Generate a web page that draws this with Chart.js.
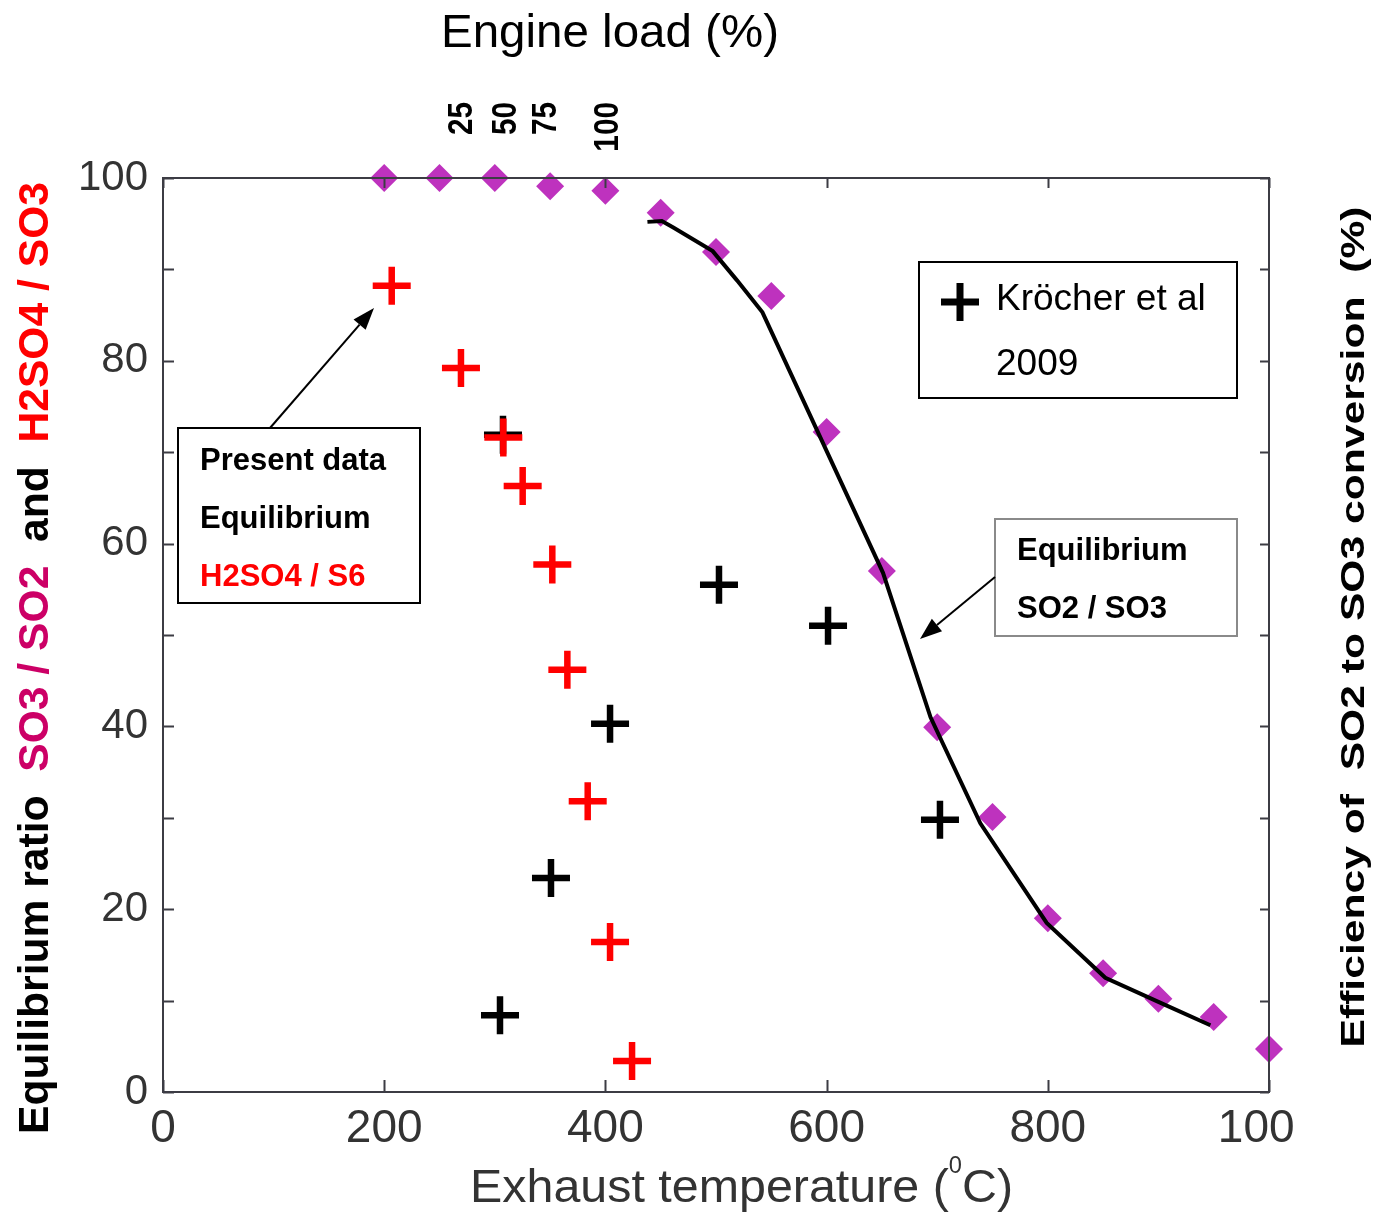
<!DOCTYPE html>
<html><head><meta charset="utf-8">
<script src="https://cdn.jsdelivr.net/npm/chart.js@4.4.1/dist/chart.umd.min.js"></script>
<style>html,body{margin:0;padding:0;background:#fff;}#wrap{width:1378px;height:1215px;position:relative;}</style>
</head><body><div id="wrap"><canvas id="c"></canvas></div>
<script>
// ---- data ----
const diamondTemps = [200,250,300,350,400,450,500,550,600,650,700,750,800,850,900,950,1000];
const so3Ratio     = [100,100,100,99.1,98.6,96.2,91.9,87.1,72.2,57.0,39.9,30.1,19.0,13.0,10.2,8.2,4.7];
const lineTemps = [438,451,461,497,519,542,651,694,739,799,852,901,947];
const lineRatio = [95.2,95.3,94.6,92.0,88.8,85.3,56.8,41.0,29.4,18.5,12.5,9.8,7.3];
const redTemps = [206.8,269.4,307.7,325.2,352.0,365.6,384.0,404.2,424.1];
const redRatio = [88.2,79.2,71.6,66.3,57.7,46.2,31.8,16.4,3.4];
const blackTemps = [307.4,502.7,601.3,404.2,702.5,350.8,304.7];
const blackRatio = [71.9,55.5,51.0,40.3,29.8,23.4,8.4];
const xTickValues = [0,200,400,600,800,1000];
const xTickLabels = ['0','200','400','600','800','1000'];
const yTickValues = [0,20,40,60,80,100];
const yTickLabels = ['0','20','40','60','80','100'];
const yMinorTicks = [10,30,50,70,90];
const engineLoadLabels = ['25','50','75','100'];
const engineLoadTemps = [268,307,344,400];

const FONT = '"Liberation Sans", Arial, sans-serif';
const pts = (xs, ys) => xs.map((x, i) => ({x, y: ys[i]}));

function drawRich(ctx, segs, font, x, y, angle, targetLen, align) {
  ctx.save();
  ctx.font = font;
  const widths = segs.map(s => ctx.measureText(s.t).width);
  const total = widths.reduce((a, b) => a + b, 0);
  const sx = targetLen ? targetLen / total : 1;
  ctx.translate(x, y); ctx.rotate(angle); ctx.scale(sx, 1);
  let cx = align === 'center' ? -total / 2 : (align === 'right' ? -total : 0);
  ctx.textBaseline = 'alphabetic'; ctx.textAlign = 'left';
  segs.forEach((s, i) => { ctx.fillStyle = s.c; ctx.fillText(s.t, cx, 0); cx += widths[i]; });
  ctx.restore();
}
function arrow(ctx, x1, y1, x2, y2) {
  const a = Math.atan2(y2 - y1, x2 - x1), L = 22, W = 8;
  ctx.save();
  ctx.strokeStyle = '#000'; ctx.fillStyle = '#000'; ctx.lineWidth = 2;
  ctx.beginPath(); ctx.moveTo(x1, y1);
  ctx.lineTo(x2 - L * Math.cos(a), y2 - L * Math.sin(a)); ctx.stroke();
  ctx.beginPath(); ctx.moveTo(x2, y2);
  ctx.lineTo(x2 - L * Math.cos(a) + W * Math.sin(a), y2 - L * Math.sin(a) - W * Math.cos(a));
  ctx.lineTo(x2 - L * Math.cos(a) - W * Math.sin(a), y2 - L * Math.sin(a) + W * Math.cos(a));
  ctx.closePath(); ctx.fill();
  ctx.restore();
}

const framePlugin = {
  id: 'frame',
  afterDatasetsDraw(chart) {
    const ctx = chart.ctx, a = chart.chartArea, xs = chart.scales.x, ys = chart.scales.y;
    ctx.save();
    ctx.strokeStyle = '#3c3c44'; ctx.lineWidth = 2;
    ctx.strokeRect(a.left, a.top, a.right - a.left, a.bottom - a.top);
    ctx.beginPath();
    yTickValues.concat(yMinorTicks).forEach(v => {
      const p = Math.round(ys.getPixelForValue(v)) + 0.5;
      ctx.moveTo(a.left, p); ctx.lineTo(a.left + 11, p);
      ctx.moveTo(a.right, p); ctx.lineTo(a.right - 9, p);
    });
    xTickValues.forEach(v => {
      const p = Math.round(xs.getPixelForValue(v)) + 0.5;
      ctx.moveTo(p, a.bottom); ctx.lineTo(p, a.bottom - 12);
      ctx.moveTo(p, a.top); ctx.lineTo(p, a.top + 10);
    });
    ctx.stroke();
    ctx.restore();
  },
  afterDraw(chart) {
    const ctx = chart.ctx, xs = chart.scales.x;
    // mask the clipped end of the last tick label as in the reference
    ctx.save(); ctx.fillStyle = '#fff'; ctx.fillRect(1296, 1100, 30, 60); ctx.restore();

    // axis titles
    drawRich(ctx, [{t: 'Engine load (%)', c: '#000'}], '47px ' + FONT, 610, 47, 0, 338, 'center');
    // bottom title with superscript
    ctx.save();
    const big = '47px ' + FONT, small = '23px ' + FONT;
    ctx.font = big; const w1 = ctx.measureText('Exhaust temperature (').width, w3 = ctx.measureText('C)').width;
    ctx.font = small; const w2 = ctx.measureText('0').width;
    const sc = 543 / (w1 + w2 + w3);
    ctx.translate(470, 1202); ctx.scale(sc, 1); ctx.fillStyle = '#333'; ctx.textBaseline = 'alphabetic';
    ctx.font = big; ctx.fillText('Exhaust temperature (', 0, 0);
    ctx.font = small; ctx.fillText('0', w1, -29);
    ctx.font = big; ctx.fillText('C)', w1 + w2, 0);
    ctx.restore();

    drawRich(ctx, [
      {t: 'Equilibrium ratio  ', c: '#000'},
      {t: 'SO3 / SO2', c: '#cc0066'},
      {t: '  and  ', c: '#000'},
      {t: 'H2SO4 / SO3', c: '#ff0000'}
    ], 'bold 43px ' + FONT, 48, 658, -Math.PI / 2, 952, 'center');
    drawRich(ctx, [{t: 'Efficiency of  SO2 to SO3 conversion  (%)', c: '#000'}],
      'bold 34px ' + FONT, 1364, 627, -Math.PI / 2, 841, 'center');

    // engine load labels on the top axis
    engineLoadLabels.forEach((lab, i) => {
      const px = xs.getPixelForValue(engineLoadTemps[i]);
      ctx.save();
      ctx.font = 'bold 35px ' + FONT; ctx.fillStyle = '#000';
      ctx.translate(px + 13, 102); ctx.rotate(-Math.PI / 2); ctx.scale(0.85, 1);
      ctx.textAlign = 'right'; ctx.textBaseline = 'alphabetic';
      ctx.fillText(lab, 0, 0);
      ctx.restore();
    });

    // annotation boxes
    ctx.save();
    ctx.fillStyle = '#fff';
    ctx.lineWidth = 2;
    ctx.strokeStyle = '#000';
    ctx.fillRect(178, 428, 242, 175); ctx.strokeRect(178, 428, 242, 175);
    ctx.fillRect(919, 262, 318, 136); ctx.strokeRect(919, 262, 318, 136);
    ctx.strokeStyle = '#8a8a8a';
    ctx.fillRect(995, 519, 242, 117); ctx.strokeRect(995, 519, 242, 117);
    ctx.restore();

    const bold = 'bold 31px ' + FONT;
    drawRich(ctx, [{t: 'Present data', c: '#000'}], bold, 200, 470, 0, 0, 'left');
    drawRich(ctx, [{t: 'Equilibrium', c: '#000'}], bold, 200, 528, 0, 0, 'left');
    drawRich(ctx, [{t: 'H2SO4 / S6', c: '#ff0000'}], bold, 200, 586, 0, 0, 'left');
    drawRich(ctx, [{t: 'Equilibrium', c: '#000'}], bold, 1017, 560, 0, 0, 'left');
    drawRich(ctx, [{t: 'SO2 / SO3', c: '#000'}], bold, 1017, 618, 0, 0, 'left');
    drawRich(ctx, [{t: 'Kröcher et al', c: '#000'}], '37px ' + FONT, 996, 310, 0, 0, 'left');
    drawRich(ctx, [{t: '2009', c: '#000'}], '37px ' + FONT, 996, 375, 0, 0, 'left');
    ctx.save();
    ctx.strokeStyle = '#000'; ctx.lineWidth = 7; ctx.beginPath();
    ctx.moveTo(941, 302); ctx.lineTo(979, 302); ctx.moveTo(960, 283); ctx.lineTo(960, 321); ctx.stroke();
    ctx.restore();

    arrow(ctx, 270, 428, 374, 308);
    arrow(ctx, 995, 577, 920, 639);
  }
};

new Chart(document.getElementById('c'), {
  type: 'scatter',
  data: {
    datasets: [
      {label: 'Equilibrium SO2/SO3 curve', data: pts(lineTemps, lineRatio), showLine: true,
       borderColor: '#000', borderWidth: 4, pointRadius: 0, tension: 0, order: 1, clip: false},
      {label: 'H2SO4/SO3 equilibrium (present data)', data: pts(redTemps, redRatio), pointStyle: 'cross',
       pointRadius: 19, borderColor: '#ff0000', borderWidth: 6.5, order: 2, clip: false},
      {label: 'Kröcher et al 2009', data: pts(blackTemps, blackRatio), pointStyle: 'cross',
       pointRadius: 19, borderColor: '#000', borderWidth: 6.5, order: 3, clip: false},
      {label: 'SO3/SO2 equilibrium', data: pts(diamondTemps, so3Ratio), pointStyle: 'rectRot',
       pointRadius: 14, backgroundColor: 'rgb(190,50,190)', borderWidth: 0, order: 4, clip: false}
    ]
  },
  options: {
    responsive: true, maintainAspectRatio: false, animation: false, devicePixelRatio: 1,
    events: [],
    layout: {padding: 0},
    plugins: {legend: {display: false}, tooltip: {enabled: false}},
    scales: {
      x: {type: 'linear', position: 'bottom', min: 0, max: 1000,
          afterBuildTicks: s => { s.ticks = xTickValues.map(v => ({value: v})); },
          ticks: {callback: (v, i) => xTickLabels[i], font: {family: FONT, size: 46, lineHeight: 1},
                  color: '#333', padding: 14, maxRotation: 0, autoSkip: false},
          grid: {display: false, drawTicks: false}, border: {display: false},
          afterFit: s => { s.height = 123; }},
      xTop: {type: 'linear', position: 'top', min: 0, max: 1000,
          ticks: {display: false}, grid: {display: false, drawTicks: false}, border: {display: false},
          afterFit: s => { s.height = 178; }},
      y: {type: 'linear', position: 'left', min: 0, max: 100,
          afterBuildTicks: s => { s.ticks = yTickValues.map(v => ({value: v})); },
          ticks: {callback: (v, i) => yTickLabels[i], font: {family: FONT, size: 42, lineHeight: 1},
                  color: '#333', padding: 15, autoSkip: false},
          grid: {display: false, drawTicks: false}, border: {display: false},
          afterFit: s => { s.width = 163; }},
      y2: {type: 'linear', position: 'right', min: 0, max: 100,
          ticks: {display: false}, grid: {display: false, drawTicks: false}, border: {display: false},
          afterFit: s => { s.width = 109; }}
    }
  },
  plugins: [framePlugin]
});
</script></body></html>
